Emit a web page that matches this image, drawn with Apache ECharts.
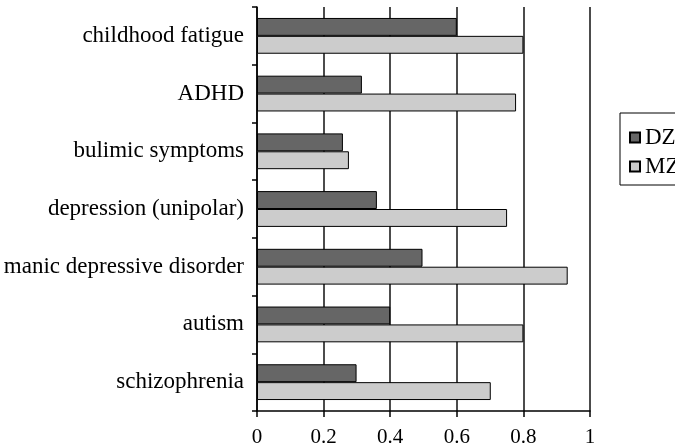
<!DOCTYPE html>
<html>
<head>
<meta charset="utf-8">
<script src="https://cdn.jsdelivr.net/npm/echarts@6/dist/echarts.min.js"></script>
<style>html,body{margin:0;padding:0;background:#fff}#c{width:675px;height:448px}</style>
</head>
<body>
<div id="c"></div>
<script>
var categories = ["childhood fatigue", "ADHD", "bulimic symptoms", "depression (unipolar)", "manic depressive disorder", "autism", "schizophrenia"];
var dzValues = [0.60, 0.315, 0.258, 0.36, 0.497, 0.40, 0.299];
var mzValues = [0.80, 0.778, 0.276, 0.751, 0.933, 0.80, 0.702];
var xTicks = [0, 0.2, 0.4, 0.6, 0.8, 1];

var FONT = "Liberation Serif";
var chart = echarts.init(document.getElementById('c'), null, {renderer: 'canvas'});
chart.setOption({
  animation: false,
  backgroundColor: '#fff',
  textStyle: {fontFamily: FONT},
  grid: {left: 257, right: 85, top: 7, bottom: 37, containLabel: false},
  xAxis: {
    type: 'value', min: 0, max: 1, interval: 0.2,
    axisLine: {show: true, lineStyle: {color: '#000', width: 1.5}},
    axisTick: {show: true, length: 6, lineStyle: {color: '#000', width: 1.5}},
    axisLabel: {color: '#000', fontFamily: FONT, fontSize: 21, margin: 16,
      formatter: function (v) { var s = xTicks.find(function (t) { return Math.abs(t - v) < 1e-9; }); return s === undefined ? '' : String(s); }},
    splitLine: {show: true, lineStyle: {color: '#111', width: 1.5}}
  },
  yAxis: {
    type: 'category', data: categories, inverse: true,
    axisLine: {show: true, lineStyle: {color: '#000', width: 1.5}},
    axisTick: {show: true, length: 5, lineStyle: {color: '#000', width: 1.5}},
    axisLabel: {color: '#000', fontFamily: FONT, fontSize: 23, margin: 13}
  },
  legend: {
    orient: 'vertical', left: 620, top: 113,
    data: ['DZ', 'MZ'],
    icon: 'rect', itemWidth: 10, itemHeight: 10, itemGap: 6,
    padding: [13, 12, 7, 9],
    borderColor: '#000', borderWidth: 1, backgroundColor: '#fff', borderRadius: 0,
    textStyle: {color: '#000', fontFamily: FONT, fontSize: 23}
  },
  series: [
    {name: 'DZ', type: 'bar', data: dzValues, barGap: '0%', barCategoryGap: '38%',
      itemStyle: {color: '#666666', borderColor: '#000', borderWidth: 1}},
    {name: 'MZ', type: 'bar', data: mzValues, barGap: '0%', barCategoryGap: '38%',
      itemStyle: {color: '#cccccc', borderColor: '#000', borderWidth: 1}}
  ]
});
</script>
</body>
</html>
